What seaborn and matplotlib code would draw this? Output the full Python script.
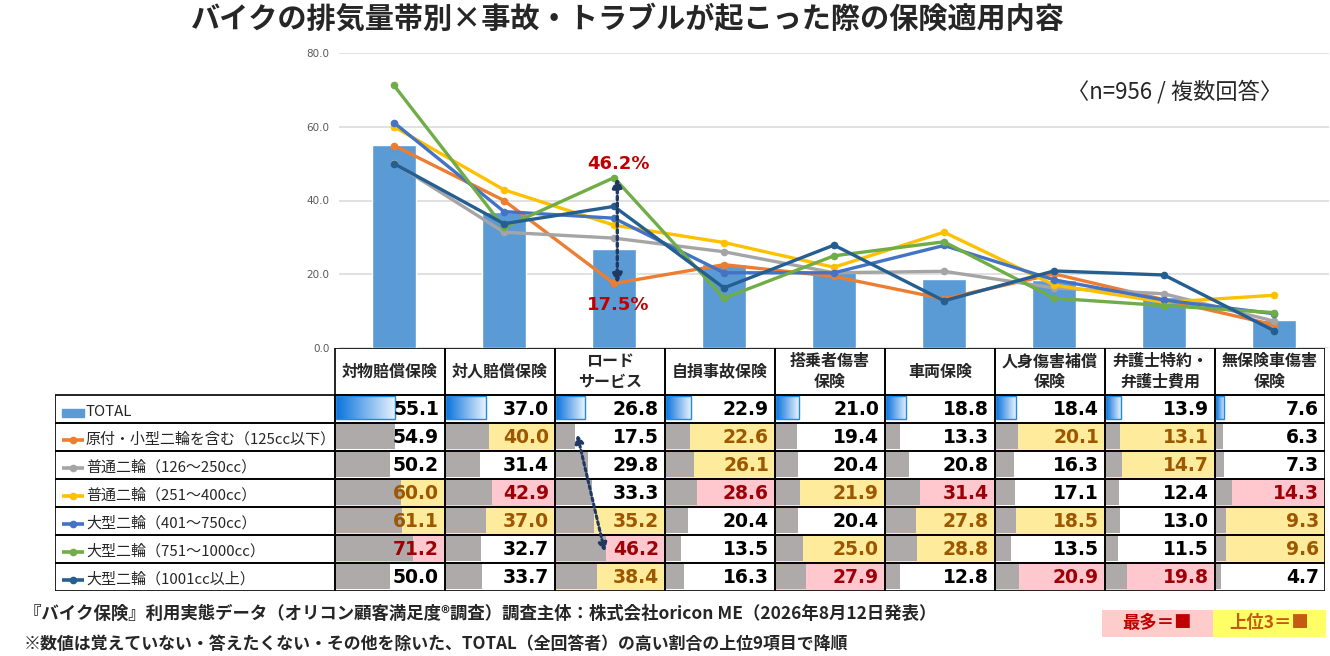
import numpy as np
import matplotlib
matplotlib.use("Agg")
import matplotlib.pyplot as plt
import seaborn as sns
from matplotlib.patches import Rectangle
from matplotlib.colors import LinearSegmentedColormap

# データ
categories = ["対物賠償保険", "対人賠償保険", "ロード\nサービス", "自損事故保険", "搭乗者傷害\n保険",
              "車両保険", "人身傷害補償\n保険", "弁護士特約・\n弁護士費用", "無保険車傷害\n保険"]
total = [55.1, 37.0, 26.8, 22.9, 21.0, 18.8, 18.4, 13.9, 7.6]
group_names = ["原付・小型二輪を含む（125cc以下）", "普通二輪（126～250cc）", "普通二輪（251～400cc）",
               "大型二輪（401～750cc）", "大型二輪（751～1000cc）", "大型二輪（1001cc以上）"]
moped = [54.9, 40.0, 17.5, 22.6, 19.4, 13.3, 20.1, 13.1, 6.3]
std_small = [50.2, 31.4, 29.8, 26.1, 20.4, 20.8, 16.3, 14.7, 7.3]
std_large = [60.0, 42.9, 33.3, 28.6, 21.9, 31.4, 17.1, 12.4, 14.3]
big_750 = [61.1, 37.0, 35.2, 20.4, 20.4, 27.8, 18.5, 13.0, 9.3]
big_1000 = [71.2, 32.7, 46.2, 13.5, 25.0, 28.8, 13.5, 11.5, 9.6]
big_over = [50.0, 33.7, 38.4, 16.3, 27.9, 12.8, 20.9, 19.8, 4.7]

groups = [moped, std_small, std_large, big_750, big_1000, big_over]
line_colors = ["#ED7D31", "#A5A5A5", "#FFC000", "#4472C4", "#70AD47", "#255E91"]
bar_color = "#5B9BD5"

sns.set_theme(style="white")
plt.rcParams["font.family"] = ["Noto Sans CJK JP", "DejaVu Sans"]
plt.rcParams["axes.unicode_minus"] = False

W, H, DPI = 1330, 656, 100


def box(x0, y0, x1, y1):
    """ピクセル座標 -> figure座標"""
    return [x0 / W, 1 - y1 / H, (x1 - x0) / W, (y1 - y0) / H]


fig = plt.figure(figsize=(W / DPI, H / DPI), dpi=DPI)
fig.patch.set_facecolor("white")

# ---- グラフ部分 ----
ax = fig.add_axes(box(339, 53, 1329, 348))
pos = np.arange(len(categories))
sns.barplot(x=pos, y=total, color=bar_color, width=0.4, saturation=1, ax=ax, zorder=2)
for vals, col in zip(groups, line_colors):
    sns.lineplot(x=pos, y=vals, color=col, marker="o", markersize=5.5, markeredgewidth=0,
                 linewidth=2.4, ax=ax, legend=False, zorder=3)

ax.set_xlim(-0.5, 8.5)
ax.set_ylim(0, 80)
ax.set_yticks([0, 20, 40, 60, 80])
ax.set_yticklabels([f"{t:.1f}" for t in [0, 20, 40, 60, 80]], family="DejaVu Sans",
                   fontsize=7.5, color="#595959")
ax.set_xticks([])
ax.set_xlabel("")
ax.tick_params(axis="y", length=0, pad=7)
ax.grid(axis="y", color="#D9D9D9", lw=1.1, zorder=0)
for s in ax.spines.values():
    s.set_visible(False)

# ロードサービスの差分注記
ax.annotate("", xy=(2.03, big_1000[2]), xytext=(2.03, moped[2]),
            arrowprops=dict(arrowstyle="<|-|>", linestyle=(0, (1, 1)), lw=2.4,
                            color="#1F3864", mutation_scale=14, shrinkA=0, shrinkB=0), zorder=5)
ax.text(2.04, big_1000[2] + 3.6, f"{big_1000[2]}%", color="#C00000", fontsize=13,
        fontweight="bold", family="DejaVu Sans", ha="center", va="center")
ax.text(2.04, moped[2] - 5.8, f"{moped[2]}%", color="#C00000", fontsize=13,
        fontweight="bold", family="DejaVu Sans", ha="center", va="center")

fig.text(1175 / W, 1 - 92 / H, "〈n=956 / 複数回答〉", fontsize=16, ha="center", va="center")

# ---- 表部分 ----
LEG = 280 / 110
HDR = 47 / 28
tab = fig.add_axes(box(55, 348, 1325, 591))
tab.axis("off")

vals = np.array(groups)
hl = np.full(vals.shape, "", dtype=object)
for j in range(vals.shape[1]):
    order = np.argsort(-vals[:, j], kind="stable")
    hl[order[0], j] = "max"
    hl[order[1:3], j] = "top"

bg_col = {"max": "#FFC7CE", "top": "#FFEB9C", "": "white"}
txt_col = {"max": "#9C0006", "top": "#9C5700", "": "black"}
edge = dict(edgecolor="black", lw=1.2, fill=False, zorder=4)

# ヘッダー
for j, cat in enumerate(categories):
    tab.add_patch(Rectangle((j, -HDR), 1, HDR, **edge))
    tab.text(j + 0.5, -HDR / 2, cat, ha="center", va="center", fontsize=11.5,
             fontweight="bold", linespacing=1.35)

grad_cmap = LinearSegmentedColormap.from_list("tot", ["#0A72DC", "#EAF3FD"])
grad = np.linspace(0, 1, 256).reshape(1, -1)

rows = [total] + groups
for i, row in enumerate(rows):
    # 凡例セル
    tab.add_patch(Rectangle((-LEG, i), LEG, 1, **edge))
    kx0, kx1 = -LEG + 7 / 110, -LEG + 29 / 110
    if i == 0:
        tab.add_patch(Rectangle((kx0, i + 0.5), kx1 - kx0, 0.3, color=bar_color, zorder=3))
        label = "TOTAL"
    else:
        tab.plot([kx0, kx1], [i + 0.62, i + 0.62], color=line_colors[i - 1], lw=2.6,
                 zorder=3, solid_capstyle="butt")
        tab.plot([(kx0 + kx1) / 2], [i + 0.62], "o", color=line_colors[i - 1],
                 markersize=4.5, zorder=3)
        label = group_names[i - 1]
    tab.text(-LEG + 31 / 110, i + 0.6, label, ha="left", va="center", fontsize=10.8)

    for j, v in enumerate(row):
        key = "" if i == 0 else hl[i - 1, j]
        tab.add_patch(Rectangle((j, i), 1, 1, facecolor=bg_col[key], lw=0, zorder=1))
        w = v / 100 * 0.98
        if i == 0:
            tab.imshow(grad, extent=[j + 0.01, j + 0.01 + w, i + 0.85, i + 0.05],
                       cmap=grad_cmap, aspect="auto", zorder=2, interpolation="bilinear")
            tab.add_patch(Rectangle((j + 0.01, i + 0.05), w, 0.8, fill=False,
                                    edgecolor="#1C8AE8", lw=1, zorder=2.5))
        else:
            tab.add_patch(Rectangle((j + 0.01, i + 0.04), w, 0.88, color="#AEAAAA", lw=0, zorder=2))
        tab.add_patch(Rectangle((j, i), 1, 1, **edge))
        tab.text(j + 0.945, i + 0.52, f"{v:.1f}", ha="right", va="center", fontsize=13.5,
                 fontweight="bold", family="DejaVu Sans", color=txt_col[key], zorder=5)

# 表内の矢印
tab.annotate("", xy=(2 + moped[2] / 100 * 0.98 + 0.03, 1.4),
             xytext=(2 + big_1000[2] / 100 * 0.98, 5.6),
             arrowprops=dict(arrowstyle="<|-|>", linestyle=(0, (1, 1)), lw=2.2,
                             color="#1F3864", mutation_scale=12, shrinkA=0, shrinkB=0),
             zorder=6)

tab.set_xlim(-LEG, 9)
tab.set_ylim(7, -HDR)

# ---- タイトル・注記 ----
fig.text(628 / W, 1 - 19 / H, "バイクの排気量帯別×事故・トラブルが起こった際の保険適用内容",
         fontsize=21, fontweight="bold", ha="center", va="center")
fig.text(24 / W, 1 - 614 / H,
         "『バイク保険』利用実態データ（オリコン顧客満足度®調査）調査主体：株式会社oricon ME（2026年8月12日発表）",
         fontsize=12.5, fontweight="bold", ha="left", va="center")
fig.text(24 / W, 1 - 644 / H,
         "※数値は覚えていない・答えたくない・その他を除いた、TOTAL（全回答者）の高い割合の上位9項目で降順",
         fontsize=12.2, fontweight="bold", ha="left", va="center")

fig.patches.append(Rectangle((1102 / W, 1 - 637 / H), 111 / W, 27 / H, transform=fig.transFigure,
                             facecolor="#FFCCCC", lw=0))
fig.patches.append(Rectangle((1213 / W, 1 - 637 / H), 113 / W, 27 / H, transform=fig.transFigure,
                             facecolor="#FFFF66", lw=0))
fig.text(1157 / W, 1 - 623 / H, "最多＝■", fontsize=12.5, fontweight="bold", color="#C00000",
         ha="center", va="center")
fig.text(1269 / W, 1 - 623 / H, "上位3＝■", fontsize=12.5, fontweight="bold", color="#C55A11",
         ha="center", va="center")

fig.savefig("out.png", dpi=DPI)
